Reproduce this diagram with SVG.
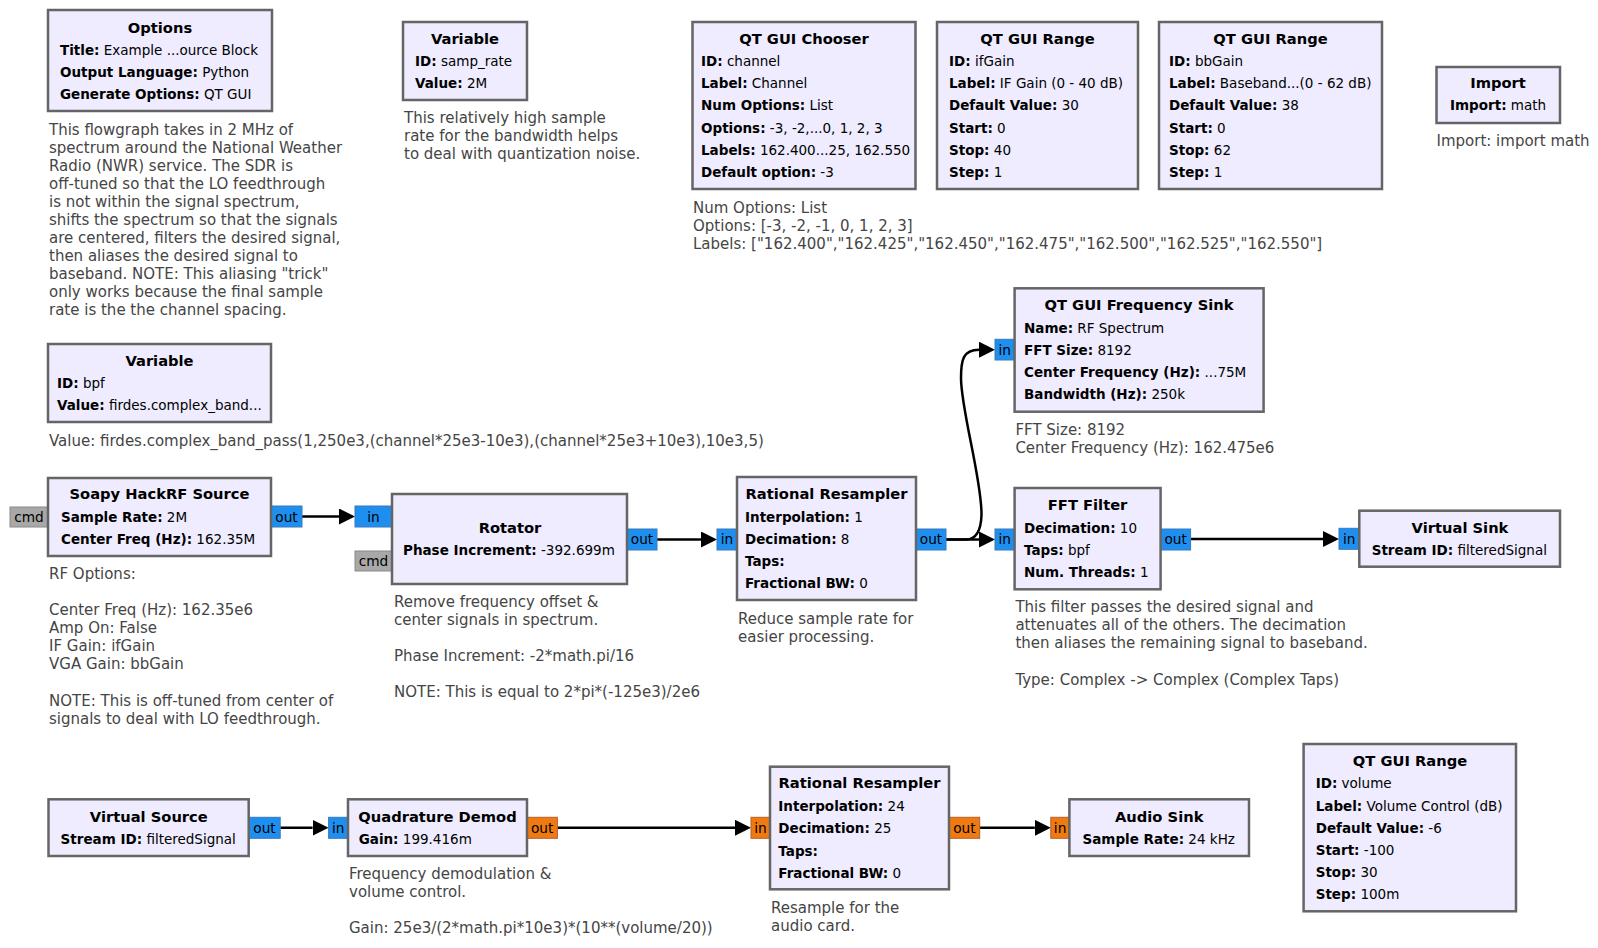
<svg xmlns="http://www.w3.org/2000/svg" width="1598" height="948" viewBox="0 0 1598 948">
<style>
text{font-family:"DejaVu Sans","Liberation Sans",sans-serif;}
.b{fill:#EEECFE;stroke:#656565;stroke-width:2.5;}
.t{font-size:14.7px;font-weight:bold;text-anchor:middle;fill:#000;}
.p{font-size:13.5px;fill:#000;}
.p tspan.k{font-weight:bold;}
.c{font-size:15px;fill:#454545;}
.pc{fill:#1E8FEF;stroke:#3A78BE;stroke-width:1;}
.pf{fill:#F07A12;stroke:#B5602A;stroke-width:1;}
.pm{fill:#A8A8A8;stroke:#8A8A8A;stroke-width:1;}
.pl{font-size:13.7px;text-anchor:middle;fill:#000;}
.w{fill:none;stroke:#000;stroke-width:2.5;marker-end:url(#ah);}
</style>
<defs>
<marker id="ah" markerUnits="userSpaceOnUse" viewBox="0 0 16 16" refX="0" refY="8" markerWidth="16" markerHeight="16" orient="auto">
<path d="M0,0 L16,8 L0,16 Z" fill="#000"/>
</marker>
</defs>

<g id="connectors">
<path class="w" d="M302,516.5 H339"/>
<path class="w" d="M657,539.5 H701"/>
<path class="w" d="M946,539.5 H979"/>
<path class="w" d="M946,539.5 H966 C976,539.5 981,530 981.5,515 C982,480 961,410 961,378 C961,360 963,349.7 979,349.7"/>
<path class="w" d="M1190.6,539 H1323"/>
<path class="w" d="M280.2,827.8 H312.6"/>
<path class="w" d="M557.4,827.8 H735"/>
<path class="w" d="M979.7,827.8 H1034.8"/>
</g>

<g id="options">
<rect class="b" x="48" y="10" width="224" height="101"/>
<text class="t" x="160" y="33">Options</text>
<text class="p" x="60" y="55"><tspan class="k">Title:</tspan> Example ...ource Block</text>
<text class="p" x="60" y="77"><tspan class="k">Output Language:</tspan> Python</text>
<text class="p" x="60" y="99"><tspan class="k">Generate Options:</tspan> QT GUI</text>
<text class="c" x="49" y="135">This flowgraph takes in 2 MHz of</text>
<text class="c" x="49" y="153">spectrum around the National Weather</text>
<text class="c" x="49" y="171">Radio (NWR) service. The SDR is</text>
<text class="c" x="49" y="189">off-tuned so that the LO feedthrough</text>
<text class="c" x="49" y="207">is not within the signal spectrum,</text>
<text class="c" x="49" y="225">shifts the spectrum so that the signals</text>
<text class="c" x="49" y="243">are centered, filters the desired signal,</text>
<text class="c" x="49" y="261">then aliases the desired signal to</text>
<text class="c" x="49" y="279">baseband. NOTE: This aliasing "trick"</text>
<text class="c" x="49" y="297">only works because the final sample</text>
<text class="c" x="49" y="315">rate is the the channel spacing.</text>
</g>

<g id="var_samp_rate">
<rect class="b" x="403" y="22" width="124" height="78"/>
<text class="t" x="465" y="44">Variable</text>
<text class="p" x="415" y="66"><tspan class="k">ID:</tspan> samp_rate</text>
<text class="p" x="415" y="88"><tspan class="k">Value:</tspan> 2M</text>
<text class="c" x="404" y="123">This relatively high sample</text>
<text class="c" x="404" y="141">rate for the bandwidth helps</text>
<text class="c" x="404" y="159">to deal with quantization noise.</text>
</g>

<g id="chooser">
<rect class="b" x="692.5" y="22" width="223" height="167"/>
<text class="t" x="804" y="44">QT GUI Chooser</text>
<text class="p" x="701" y="66"><tspan class="k">ID:</tspan> channel</text>
<text class="p" x="701" y="88"><tspan class="k">Label:</tspan> Channel</text>
<text class="p" x="701" y="110"><tspan class="k">Num Options:</tspan> List</text>
<text class="p" x="701" y="132.5"><tspan class="k">Options:</tspan> -3, -2,...0, 1, 2, 3</text>
<text class="p" x="701" y="155"><tspan class="k">Labels:</tspan> 162.400...25, 162.550</text>
<text class="p" x="701" y="177"><tspan class="k">Default option:</tspan> -3</text>
<text class="c" x="693" y="213">Num Options: List</text>
<text class="c" x="693" y="231">Options: [-3, -2, -1, 0, 1, 2, 3]</text>
<text class="c" x="693" y="249">Labels: ["162.400","162.425","162.450","162.475","162.500","162.525","162.550"]</text>
</g>

<g id="range_ifgain">
<rect class="b" x="937" y="22" width="201" height="167"/>
<text class="t" x="1037.5" y="44">QT GUI Range</text>
<text class="p" x="949" y="66"><tspan class="k">ID:</tspan> ifGain</text>
<text class="p" x="949" y="88"><tspan class="k">Label:</tspan> IF Gain (0 - 40 dB)</text>
<text class="p" x="949" y="110"><tspan class="k">Default Value:</tspan> 30</text>
<text class="p" x="949" y="132.5"><tspan class="k">Start:</tspan> 0</text>
<text class="p" x="949" y="155"><tspan class="k">Stop:</tspan> 40</text>
<text class="p" x="949" y="177"><tspan class="k">Step:</tspan> 1</text>
</g>

<g id="range_bbgain">
<rect class="b" x="1159" y="22" width="223" height="167"/>
<text class="t" x="1270.5" y="44">QT GUI Range</text>
<text class="p" x="1169" y="66"><tspan class="k">ID:</tspan> bbGain</text>
<text class="p" x="1169" y="88"><tspan class="k">Label:</tspan> Baseband...(0 - 62 dB)</text>
<text class="p" x="1169" y="110"><tspan class="k">Default Value:</tspan> 38</text>
<text class="p" x="1169" y="132.5"><tspan class="k">Start:</tspan> 0</text>
<text class="p" x="1169" y="155"><tspan class="k">Stop:</tspan> 62</text>
<text class="p" x="1169" y="177"><tspan class="k">Step:</tspan> 1</text>
</g>

<g id="import">
<rect class="b" x="1436.5" y="67" width="123.5" height="56"/>
<text class="t" x="1498" y="87.5">Import</text>
<text class="p" x="1450" y="110"><tspan class="k">Import:</tspan> math</text>
<text class="c" x="1436.5" y="145.5">Import: import math</text>
</g>

<g id="var_bpf">
<rect class="b" x="48" y="344" width="223" height="78"/>
<text class="t" x="159.5" y="365.7">Variable</text>
<text class="p" x="57" y="388"><tspan class="k">ID:</tspan> bpf</text>
<text class="p" x="57" y="410"><tspan class="k">Value:</tspan> firdes.complex_band...</text>
<text class="c" x="49" y="445.7">Value: firdes.complex_band_pass(1,250e3,(channel*25e3-10e3),(channel*25e3+10e3),10e3,5)</text>
</g>

<g id="soapy_source">
<rect class="pm" x="10" y="507" width="38" height="20"/>
<text class="pl" x="29" y="521.5">cmd</text>
<rect class="pc" x="271" y="506" width="31" height="21"/>
<text class="pl" x="286.5" y="521.5">out</text>
<rect class="b" x="48" y="478" width="223" height="78"/>
<text class="t" x="159.5" y="499">Soapy HackRF Source</text>
<text class="p" x="61" y="522"><tspan class="k">Sample Rate:</tspan> 2M</text>
<text class="p" x="61" y="544"><tspan class="k">Center Freq (Hz):</tspan> 162.35M</text>
<text class="c" x="49" y="579">RF Options:</text>
<text class="c" x="49" y="614.5">Center Freq (Hz): 162.35e6</text>
<text class="c" x="49" y="632.5">Amp On: False</text>
<text class="c" x="49" y="650.5">IF Gain: ifGain</text>
<text class="c" x="49" y="668.5">VGA Gain: bbGain</text>
<text class="c" x="49" y="705.5">NOTE: This is off-tuned from center of</text>
<text class="c" x="49" y="723.5">signals to deal with LO feedthrough.</text>
</g>

<g id="rotator">
<rect class="pc" x="355" y="506" width="37" height="21"/>
<text class="pl" x="373.5" y="521.5">in</text>
<rect class="pm" x="355" y="551" width="37" height="20"/>
<text class="pl" x="373.5" y="565.5">cmd</text>
<rect class="pc" x="627" y="529" width="30" height="21"/>
<text class="pl" x="642" y="544">out</text>
<rect class="b" x="392" y="494" width="235" height="90"/>
<text class="t" x="510" y="533">Rotator</text>
<text class="p" x="403" y="555"><tspan class="k">Phase Increment:</tspan> -392.699m</text>
<text class="c" x="394" y="607.3">Remove frequency offset &amp;</text>
<text class="c" x="394" y="625">center signals in spectrum.</text>
<text class="c" x="394" y="661">Phase Increment: -2*math.pi/16</text>
<text class="c" x="394" y="697">NOTE: This is equal to 2*pi*(-125e3)/2e6</text>
</g>

<g id="rational_resampler_1">
<rect class="pc" x="717" y="529" width="20" height="21"/>
<text class="pl" x="727" y="544">in</text>
<rect class="pc" x="916" y="529" width="30" height="21"/>
<text class="pl" x="931" y="544">out</text>
<rect class="b" x="737" y="477" width="179" height="123"/>
<text class="t" x="826.5" y="499">Rational Resampler</text>
<text class="p" x="745" y="522.3"><tspan class="k">Interpolation:</tspan> 1</text>
<text class="p" x="745" y="544"><tspan class="k">Decimation:</tspan> 8</text>
<text class="p" x="745" y="566"><tspan class="k">Taps:</tspan></text>
<text class="p" x="745" y="588.3"><tspan class="k">Fractional BW:</tspan> 0</text>
<text class="c" x="738" y="624">Reduce sample rate for</text>
<text class="c" x="738" y="641.7">easier processing.</text>
</g>

<g id="freq_sink">
<rect class="pc" x="995" y="339.3" width="19.6" height="20.7"/>
<text class="pl" x="1004.8" y="354.5">in</text>
<rect class="b" x="1014.6" y="288.3" width="249" height="123.4"/>
<text class="t" x="1139" y="310">QT GUI Frequency Sink</text>
<text class="p" x="1024" y="333.3"><tspan class="k">Name:</tspan> RF Spectrum</text>
<text class="p" x="1024" y="355"><tspan class="k">FFT Size:</tspan> 8192</text>
<text class="p" x="1024" y="376.7"><tspan class="k">Center Frequency (Hz):</tspan> ...75M</text>
<text class="p" x="1024" y="399"><tspan class="k">Bandwidth (Hz):</tspan> 250k</text>
<text class="c" x="1015.4" y="435">FFT Size: 8192</text>
<text class="c" x="1015.4" y="452.7">Center Frequency (Hz): 162.475e6</text>
</g>

<g id="fft_filter">
<rect class="pc" x="995" y="529" width="19.6" height="21"/>
<text class="pl" x="1004.8" y="544">in</text>
<rect class="pc" x="1160.6" y="529" width="30" height="21"/>
<text class="pl" x="1175.6" y="544">out</text>
<rect class="b" x="1014.6" y="488" width="146" height="101.3"/>
<text class="t" x="1087.6" y="510">FFT Filter</text>
<text class="p" x="1024" y="533.3"><tspan class="k">Decimation:</tspan> 10</text>
<text class="p" x="1024" y="555"><tspan class="k">Taps:</tspan> bpf</text>
<text class="p" x="1024" y="577.3"><tspan class="k">Num. Threads:</tspan> 1</text>
<text class="c" x="1015.4" y="612.3">This filter passes the desired signal and</text>
<text class="c" x="1015.4" y="630.3">attenuates all of the others. The decimation</text>
<text class="c" x="1015.4" y="648.3">then aliases the remaining signal to baseband.</text>
<text class="c" x="1015.4" y="684.7">Type: Complex -&gt; Complex (Complex Taps)</text>
</g>

<g id="virtual_sink">
<rect class="pc" x="1339" y="528.3" width="20.3" height="21"/>
<text class="pl" x="1349.2" y="543.5">in</text>
<rect class="b" x="1359.3" y="510.7" width="200.7" height="56"/>
<text class="t" x="1460" y="532.7">Virtual Sink</text>
<text class="p" x="1371.7" y="555"><tspan class="k">Stream ID:</tspan> filteredSignal</text>
</g>

<g id="virtual_source">
<rect class="pc" x="248.7" y="817.3" width="31.5" height="21"/>
<text class="pl" x="264.5" y="832.5">out</text>
<rect class="b" x="48.5" y="799.3" width="200.2" height="56.7"/>
<text class="t" x="148.8" y="821.7">Virtual Source</text>
<text class="p" x="60.6" y="844"><tspan class="k">Stream ID:</tspan> filteredSignal</text>
</g>

<g id="quadrature_demod">
<rect class="pc" x="328.6" y="817.3" width="19.4" height="21"/>
<text class="pl" x="338.3" y="832.5">in</text>
<rect class="pf" x="527" y="817.3" width="30.4" height="21"/>
<text class="pl" x="542.2" y="832.5">out</text>
<rect class="b" x="348" y="799.3" width="179" height="56.7"/>
<text class="t" x="437.5" y="821.7">Quadrature Demod</text>
<text class="p" x="358.7" y="844"><tspan class="k">Gain:</tspan> 199.416m</text>
<text class="c" x="349" y="879">Frequency demodulation &amp;</text>
<text class="c" x="349" y="897.3">volume control.</text>
<text class="c" x="349" y="933.3">Gain: 25e3/(2*math.pi*10e3)*(10**(volume/20))</text>
</g>

<g id="rational_resampler_2">
<rect class="pf" x="751" y="817.3" width="19" height="21"/>
<text class="pl" x="760.5" y="832.5">in</text>
<rect class="pf" x="949" y="817.3" width="30.7" height="21"/>
<text class="pl" x="964.4" y="832.5">out</text>
<rect class="b" x="770" y="766.7" width="179" height="122.6"/>
<text class="t" x="859.5" y="787.7">Rational Resampler</text>
<text class="p" x="778.3" y="810.7"><tspan class="k">Interpolation:</tspan> 24</text>
<text class="p" x="778.3" y="833.3"><tspan class="k">Decimation:</tspan> 25</text>
<text class="p" x="778.3" y="855.7"><tspan class="k">Taps:</tspan></text>
<text class="p" x="778.3" y="877.7"><tspan class="k">Fractional BW:</tspan> 0</text>
<text class="c" x="771" y="913.3">Resample for the</text>
<text class="c" x="771" y="930.7">audio card.</text>
</g>

<g id="audio_sink">
<rect class="pf" x="1050.8" y="817.3" width="18.6" height="21"/>
<text class="pl" x="1060.1" y="832.5">in</text>
<rect class="b" x="1069.4" y="799.3" width="179.6" height="56.7"/>
<text class="t" x="1159.2" y="821.7">Audio Sink</text>
<text class="p" x="1082.5" y="844"><tspan class="k">Sample Rate:</tspan> 24 kHz</text>
</g>

<g id="range_volume">
<rect class="b" x="1303.6" y="744" width="212.4" height="167.3"/>
<text class="t" x="1410" y="765.7">QT GUI Range</text>
<text class="p" x="1315.7" y="788.3"><tspan class="k">ID:</tspan> volume</text>
<text class="p" x="1315.7" y="810.7"><tspan class="k">Label:</tspan> Volume Control (dB)</text>
<text class="p" x="1315.7" y="833.3"><tspan class="k">Default Value:</tspan> -6</text>
<text class="p" x="1315.7" y="855"><tspan class="k">Start:</tspan> -100</text>
<text class="p" x="1315.7" y="877.3"><tspan class="k">Stop:</tspan> 30</text>
<text class="p" x="1315.7" y="899.3"><tspan class="k">Step:</tspan> 100m</text>
</g>
</svg>
